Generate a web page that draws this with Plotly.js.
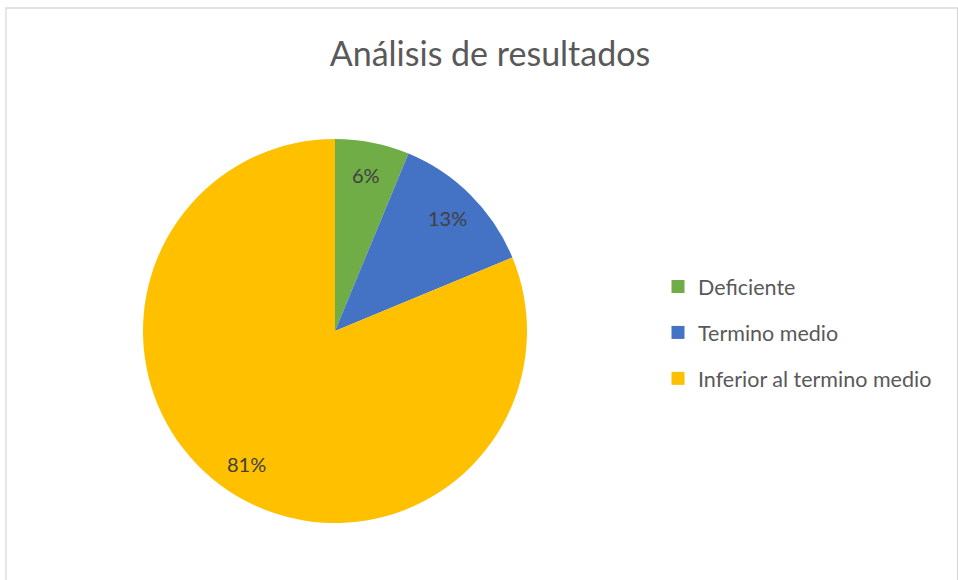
<!DOCTYPE html>
<html>
<head>
<meta charset="utf-8">
<script src="https://cdn.plot.ly/plotly-3.0.1.min.js"></script>
<style>html,body{margin:0;padding:0;background:#fff;}#chart{width:958px;height:580px;}</style>
</head>
<body>
<div id="chart"></div>
<script>
const categories = ["Deficiente", "Termino medio", "Inferior al termino medio"];
const values = [1, 2, 13];
const colors = ["#70AD47", "#4472C4", "#FFC000"];
const chartTitle = "Análisis de resultados";

const FONT = "Lato, 'Open Sans', sans-serif";
const W = 958, H = 580;
const domX = [143/W, 527/W], domY = [57/H, 441/H];

const pie = {
  type: "pie",
  labels: categories,
  values: values,
  marker: {colors: colors, line: {width: 0}},
  sort: false,
  direction: "clockwise",
  rotation: 0,
  textinfo: "none",
  domain: {x: domX, y: domY},
  showlegend: false,
  hoverinfo: "label+percent"
};

const legendTraces = categories.map((c, i) => ({
  type: "scatter",
  mode: "markers",
  x: [null], y: [null],
  name: c,
  legendgroup: c,
  marker: {symbol: "square", size: 13, color: colors[i]},
  showlegend: true,
  hoverinfo: "skip"
}));

// percentage labels placed like Excel: along each slice's mid-angle at ~0.82 of the radius
const total = values.reduce((a, b) => a + b, 0);
const cxPx = (domX[0] + domX[1]) / 2 * W, cyPx = (domY[0] + domY[1]) / 2 * H;
const Rpx = (domX[1] - domX[0]) * W / 2;
let cum = 0;
const annotations = values.map(v => {
  const mid = (cum + v / 2) / total; cum += v;
  const a = mid * 2 * Math.PI;
  const r = 0.83 * Rpx;
  return {xref: "paper", yref: "paper", showarrow: false,
          x: (cxPx + r * Math.sin(a)) / W, y: (cyPx + r * Math.cos(a)) / H,
          xanchor: "center", yanchor: "middle",
          text: Math.round(v / total * 100) + "%",
          font: {family: FONT, size: 20, color: "#404040"}};
});

const layout = {
  width: W, height: H,
  margin: {l: 0, r: 0, t: 0, b: 0},
  paper_bgcolor: "#fff", plot_bgcolor: "#fff",
  title: {text: chartTitle, font: {family: FONT, size: 34, color: "#595959"},
          x: 490/W, xanchor: "center", y: 1 - 54/H, yanchor: "middle"},
  xaxis: {visible: false, domain: [0.9, 0.91]},
  yaxis: {visible: false, domain: [0.9, 0.91]},
  showlegend: true,
  legend: {x: 658/W, y: 1 - 266/H, xanchor: "left", yanchor: "top",
           font: {family: FONT, size: 21.5, color: "#595959"},
           traceorder: "grouped", tracegroupgap: 15, bgcolor: "rgba(0,0,0,0)"},
  annotations: annotations,
  shapes: [{type: "rect", xref: "paper", yref: "paper",
            x0: 6/W, x1: 957.5/W, y0: -0.05, y1: 1 - 8/H,
            line: {color: "#d9d9d9", width: 1.3}}]
};

Plotly.newPlot("chart", [pie].concat(legendTraces), layout, {displayModeBar: false, staticPlot: true});
</script>
</body>
</html>
